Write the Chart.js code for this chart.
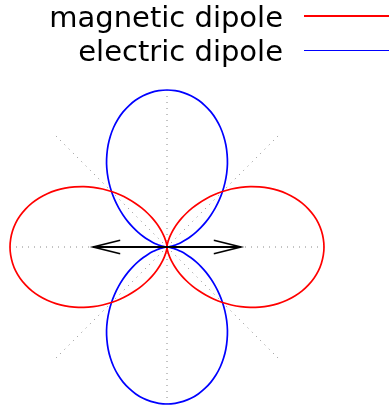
<!DOCTYPE html>
<html>
<head>
<meta charset="utf-8">
<script src="https://cdn.jsdelivr.net/npm/chart.js@4.4.1/dist/chart.umd.min.js"></script>
<style>
  html, body { margin: 0; padding: 0; background: #fff; }
  #wrap { position: relative; width: 389px; height: 406px; overflow: hidden; }
  #chart { position: absolute; left: 0; top: 0; }
  .key { position: absolute; right: 106px; font-family: "DejaVu Sans", sans-serif; font-size: 29px; line-height: 29px; color: #000; white-space: nowrap; }
  .swatch { position: absolute; left: 304px; width: 85px; height: 1.6px; }
</style>
</head>
<body>
<div id="wrap">
  <canvas id="chart" width="389" height="406"></canvas>
  <div class="key" style="top:3px">magnetic dipole</div>
  <div class="swatch" style="top:15.3px;background:#ff0000"></div>
  <div class="key" style="top:37px">electric dipole</div>
  <div class="swatch" style="top:49.8px;background:#0000ff"></div>
</div>
<script>
// Polar angle of each sample, measured clockwise from the top (degrees)
const angles = [
  0, 3, 6, 9, 12, 15, 18, 21, 24, 27, 30, 33, 36, 39, 42, 45, 48, 51, 54, 57,
  60, 63, 66, 69, 72, 75, 78, 81, 84, 87, 90, 93, 96, 99, 102, 105, 108, 111, 114, 117,
  120, 123, 126, 129, 132, 135, 138, 141, 144, 147, 150, 153, 156, 159, 162, 165, 168, 171, 174, 177,
  180, 183, 186, 189, 192, 195, 198, 201, 204, 207, 210, 213, 216, 219, 222, 225, 228, 231, 234, 237,
  240, 243, 246, 249, 252, 255, 258, 261, 264, 267, 270, 273, 276, 279, 282, 285, 288, 291, 294, 297,
  300, 303, 306, 309, 312, 315, 318, 321, 324, 327, 330, 333, 336, 339, 342, 345, 348, 351, 354, 357
];

// Relative radiated intensity of the magnetic dipole (horizontal lobes)
const magnetic = [
  0, 0.003, 0.011, 0.024, 0.043, 0.067, 0.095, 0.128, 0.165, 0.206,
  0.250, 0.297, 0.345, 0.396, 0.448, 0.500, 0.552, 0.604, 0.655, 0.703,
  0.750, 0.794, 0.835, 0.872, 0.905, 0.933, 0.957, 0.976, 0.989, 0.997,
  1.000, 0.997, 0.989, 0.976, 0.957, 0.933, 0.905, 0.872, 0.835, 0.794,
  0.750, 0.703, 0.655, 0.604, 0.552, 0.500, 0.448, 0.396, 0.345, 0.297,
  0.250, 0.206, 0.165, 0.128, 0.095, 0.067, 0.043, 0.024, 0.011, 0.003,
  0, 0.003, 0.011, 0.024, 0.043, 0.067, 0.095, 0.128, 0.165, 0.206,
  0.250, 0.297, 0.345, 0.396, 0.448, 0.500, 0.552, 0.604, 0.655, 0.703,
  0.750, 0.794, 0.835, 0.872, 0.905, 0.933, 0.957, 0.976, 0.989, 0.997,
  1.000, 0.997, 0.989, 0.976, 0.957, 0.933, 0.905, 0.872, 0.835, 0.794,
  0.750, 0.703, 0.655, 0.604, 0.552, 0.500, 0.448, 0.396, 0.345, 0.297,
  0.250, 0.206, 0.165, 0.128, 0.095, 0.067, 0.043, 0.024, 0.011, 0.003
];

// Relative radiated intensity of the electric dipole (vertical lobes)
const electric = [
  1.000, 0.997, 0.989, 0.976, 0.957, 0.933, 0.905, 0.872, 0.835, 0.794,
  0.750, 0.703, 0.655, 0.604, 0.552, 0.500, 0.448, 0.396, 0.345, 0.297,
  0.250, 0.206, 0.165, 0.128, 0.095, 0.067, 0.043, 0.024, 0.011, 0.003,
  0, 0.003, 0.011, 0.024, 0.043, 0.067, 0.095, 0.128, 0.165, 0.206,
  0.250, 0.297, 0.345, 0.396, 0.448, 0.500, 0.552, 0.604, 0.655, 0.703,
  0.750, 0.794, 0.835, 0.872, 0.905, 0.933, 0.957, 0.976, 0.989, 0.997,
  1.000, 0.997, 0.989, 0.976, 0.957, 0.933, 0.905, 0.872, 0.835, 0.794,
  0.750, 0.703, 0.655, 0.604, 0.552, 0.500, 0.448, 0.396, 0.345, 0.297,
  0.250, 0.206, 0.165, 0.128, 0.095, 0.067, 0.043, 0.024, 0.011, 0.003,
  0, 0.003, 0.011, 0.024, 0.043, 0.067, 0.095, 0.128, 0.165, 0.206,
  0.250, 0.297, 0.345, 0.396, 0.448, 0.500, 0.552, 0.604, 0.655, 0.703,
  0.750, 0.794, 0.835, 0.872, 0.905, 0.933, 0.957, 0.976, 0.989, 0.997
];

// Dipole moment arrow: directions and length on the radial scale
const arrowAngles = [90, 270];
const arrowLength = 0.47;

// Grid spokes drawn every 45 degrees
const spokeStep = 45;

const arrowData = angles.map(a => arrowAngles.includes(a) ? arrowLength : null);

// Open arrowhead sprite, tip placed at the sprite centre
function makeArrowHead() {
  const len = 27, half = 6.8;
  const c = document.createElement('canvas');
  c.width = 2 * len + 4;
  c.height = 18;
  const g = c.getContext('2d');
  const cx = c.width / 2, cy = c.height / 2;
  g.strokeStyle = '#000';
  g.lineWidth = 1.7;
  g.lineCap = 'butt';
  g.lineJoin = 'miter';
  g.beginPath();
  g.moveTo(cx - len, cy - half);
  g.lineTo(cx, cy);
  g.lineTo(cx - len, cy + half);
  g.stroke();
  return c;
}
const arrowHead = makeArrowHead();

new Chart(document.getElementById('chart'), {
  type: 'radar',
  data: {
    labels: angles.map(a => a + '°'),
    datasets: [
      {
        label: 'dipole moment',
        data: arrowData,
        borderColor: '#000',
        borderWidth: 2,
        tension: 0,
        spanGaps: true,
        fill: false,
        pointStyle: arrowHead,
        pointRadius: 10,
        rotation: ctx => (angles[ctx.dataIndex] === 90 ? 0 : 180)
      },
      {
        label: 'magnetic dipole',
        data: magnetic,
        borderColor: '#ff0000',
        borderWidth: 1.7,
        tension: 0.25,
        fill: false,
        pointRadius: 0
      },
      {
        label: 'electric dipole',
        data: electric,
        borderColor: '#0000ff',
        borderWidth: 1.7,
        tension: 0.25,
        fill: false,
        pointRadius: 0
      }
    ]
  },
  options: {
    responsive: false,
    animation: false,
    events: [],
    layout: { padding: { left: 0, right: 54, top: 90, bottom: 2 } },
    plugins: { legend: { display: false }, tooltip: { enabled: false } },
    scales: {
      r: {
        min: 0,
        max: 1,
        ticks: { display: false },
        grid: { display: false },
        pointLabels: { display: false },
        angleLines: {
          display: true,
          color: '#888',
          lineWidth: ctx => (angles[ctx.index] % spokeStep === 0 ? 1 : 0),
          borderDash: [1, 5]
        }
      }
    }
  }
});
</script>
</body>
</html>
